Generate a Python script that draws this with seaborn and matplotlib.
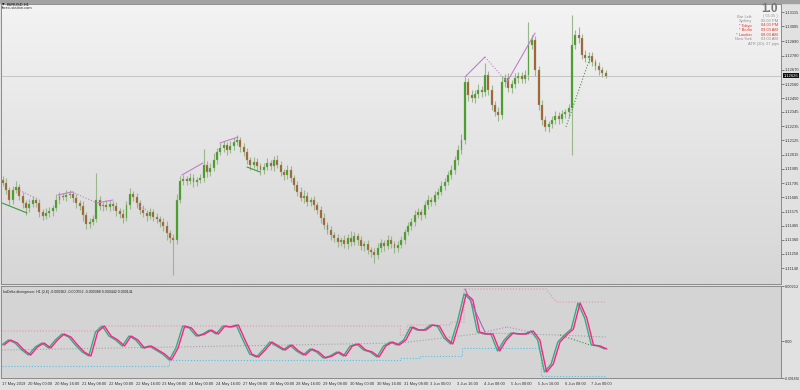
import numpy as np
import pandas as pd
import matplotlib
matplotlib.use("Agg")
import matplotlib.pyplot as plt
import seaborn as sns
from matplotlib.colors import LinearSegmentedColormap
from matplotlib.patches import Rectangle
from matplotlib.transforms import blended_transform_factory

sns.set_theme(style="white")
plt.rcParams['font.family'] = ['Liberation Sans', 'DejaVu Sans']

# ---------------- data ----------------
symbol = "EURUSD,H1"
site = "forex-station.com"
osc_title = "haDelta divergence: H1 (2,6) -0.000362 -0.000552 -0.000388 0.000442 0.000141"

first_open = 1.11820
closes = [
    1.11796, 1.11742, 1.11665, 1.11742, 1.11765, 1.11696, 1.11642, 1.11603, 1.11634, 1.11665,
    1.11642, 1.11572, 1.11541, 1.11565, 1.11580, 1.11603, 1.11665, 1.11696, 1.11688, 1.11704,
    1.11711, 1.11680, 1.11642, 1.11619, 1.11549, 1.11480, 1.11495, 1.11518, 1.11665, 1.11619,
    1.11626, 1.11611, 1.11634, 1.11619, 1.11580, 1.11557, 1.11526, 1.11626, 1.11711, 1.11688,
    1.11642, 1.11588, 1.11565, 1.11541, 1.11572, 1.11534, 1.11518, 1.11495, 1.11464, 1.11410,
    1.11372, 1.11356, 1.11665, 1.11812, 1.11827, 1.11812, 1.11835, 1.11804, 1.11819, 1.11835,
    1.11935, 1.11881, 1.11912, 1.11974, 1.12036, 1.12066, 1.12090, 1.12051, 1.12082, 1.12113,
    1.12128, 1.12074, 1.12036, 1.11974, 1.11935, 1.11958, 1.11928, 1.11897, 1.11920, 1.11951,
    1.11928, 1.11974, 1.11935, 1.11881, 1.11858, 1.11897, 1.11835, 1.11781, 1.11727, 1.11680,
    1.11696, 1.11650, 1.11665, 1.11626, 1.11588, 1.11526, 1.11472, 1.11433, 1.11395, 1.11372,
    1.11341, 1.11356, 1.11325, 1.11372, 1.11341, 1.11387, 1.11356, 1.11310, 1.11325, 1.11279,
    1.11264, 1.11240, 1.11294, 1.11333, 1.11310, 1.11356, 1.11325, 1.11294, 1.11318, 1.11356,
    1.11418, 1.11464, 1.11495, 1.11549, 1.11572, 1.11549, 1.11626, 1.11665, 1.11650, 1.11704,
    1.11727, 1.11773, 1.11804, 1.11858, 1.11897, 1.11974, 1.12051, 1.12128, 1.12576, 1.12476,
    1.12452, 1.12483, 1.12514, 1.12499, 1.12630, 1.12514, 1.12398, 1.12344, 1.12321, 1.12576,
    1.12607, 1.12530, 1.12561, 1.12607, 1.12622, 1.12599, 1.12630, 1.12862, 1.12900, 1.12669,
    1.12398, 1.12283, 1.12229, 1.12252, 1.12283, 1.12313, 1.12290, 1.12329, 1.12344, 1.12375,
    1.12862, 1.12939, 1.12916, 1.12784, 1.12761, 1.12777, 1.12730, 1.12700, 1.12669, 1.12645,
    1.12626,
]
wick_up_pips = [
    3, 4, 2, 3, 5, 2, 3, 2, 4, 3, 2, 3, 2, 4, 3, 2, 5, 3, 2, 4,
    3, 2, 3, 2, 4, 2, 3, 3, 21, 3, 2, 4, 3, 2, 3, 2, 4, 3, 5, 2,
    3, 2, 4, 2, 3, 2, 3, 2, 3, 4, 2, 3, 5, 4, 3, 2, 4, 3, 2, 3,
    12, 3, 4, 5, 3, 4, 3, 2, 4, 3, 4, 2, 3, 3, 2, 4, 3, 2, 3, 4,
    2, 3, 4, 3, 2, 4, 3, 2, 3, 4, 5, 3, 2, 3, 2, 3, 4, 2, 3, 2,
    3, 2, 4, 3, 5, 3, 2, 3, 2, 3, 2, 3, 4, 3, 2, 4, 3, 2, 3, 3,
    2, 3, 3, 4, 3, 2, 3, 4, 2, 3, 3, 4, 3, 3, 4, 3, 4, 5, 4, 3,
    4, 3, 5, 3, 9, 3, 4, 3, 4, 5, 3, 4, 3, 4, 3, 3, 4, 18, 4, 3,
    3, 4, 3, 2, 3, 4, 3, 3, 2, 3, 23, 4, 6, 3, 4, 3, 3, 2, 3, 2,
    2,
]
wick_dn_pips = [
    2, 3, 4, 3, 2, 3, 4, 5, 3, 2, 3, 4, 3, 2, 3, 4, 2, 3, 2, 3,
    2, 3, 4, 3, 5, 4, 3, 2, 2, 3, 4, 2, 3, 3, 4, 3, 4, 2, 3, 3,
    4, 3, 3, 4, 2, 3, 3, 4, 4, 5, 4, 27, 3, 2, 3, 3, 2, 4, 3, 2,
    3, 4, 3, 2, 3, 2, 3, 4, 2, 3, 2, 4, 3, 3, 4, 2, 3, 4, 3, 2,
    3, 4, 2, 3, 4, 3, 3, 4, 3, 2, 4, 3, 3, 4, 3, 4, 3, 3, 4, 3,
    4, 3, 3, 4, 3, 2, 4, 3, 4, 3, 4, 6, 3, 3, 4, 2, 3, 4, 3, 2,
    3, 2, 3, 3, 2, 4, 2, 3, 3, 2, 3, 2, 3, 2, 3, 3, 4, 3, 3, 5,
    3, 4, 3, 4, 3, 4, 4, 3, 5, 3, 4, 3, 4, 3, 4, 3, 3, 4, 3, 5,
    4, 4, 3, 4, 3, 3, 4, 3, 3, 4, 36, 3, 4, 3, 3, 4, 3, 3, 4, 3,
    2,
]
bar_hours = 2          # one drawn candle per two H1 slots

# haDelta oscillator, one value every 4 hours (x1e-6)
osc_step_hours = 4
osc_micro = [
    -154, 39, -77, -347, -540, -231, -77, -270, 39, 270,
    154, -154, -424, -578, 347, 578, 193, 39, -193, 193,
    39, -270, -193, -347, -501, -732, -270, 578, 501, 193,
    270, 424, 270, 578, 540, 617, 39, -501, -617, -347,
    -39, -193, -347, -154, -386, -540, -308, -424, -655, -578,
    -424, -578, -193, -116, -347, -424, -617, -193, -39, -154,
    39, 540, 424, 424, 617, 578, 116, -116, 732, 1812,
    1581, 347, 270, 270, -386, 39, 308, 270, 270, 386,
    39, -1195, -887, -39, 231, 463, 1465, 887, -154, -193,
    -308,
]
signal_lag_hours = 1.3

# dotted levels of the oscillator (hour, value x1e-6)
upper_hours = [0, 58, 58, 238, 238, 242, 242, 268, 268, 276, 276, 325, 331, 361]
upper_micro = [386, 386, 578, 578, 231, 231, 617, 617, 732, 732, 2005, 2005, 1503, 1503]
lower_hours = [0, 100, 100, 238, 238, 250, 250, 275, 275, 322, 322, 361]
lower_micro = [-964, -964, -732, -732, -655, -655, -578, -578, -270, -270, -1349, -1349]
mid_hours = [0, 238, 288, 333, 361]
mid_micro = [-347, -77, 308, 231, 154]

# divergence segments (hour0, value0, hour1, value1)
price_div = [
    (9.1, 1.11750, 19.9, 1.11680), (33.6, 1.11704, 42.0, 1.11727),
    (42.0, 1.11727, 56.9, 1.11642), (56.9, 1.11642, 66.4, 1.11665),
    (80.8, 1.11626, 86.7, 1.11588), (107.6, 1.11858, 120.2, 1.11951),
    (130.3, 1.12105, 141.1, 1.12151), (276.6, 1.12615, 288.5, 1.12769),
    (288.5, 1.12769, 301.7, 1.12576), (301.7, 1.12576, 318.4, 1.12954),
    (0.2, 1.11642, 15.1, 1.11565), (146.4, 1.11920, 154.2, 1.11881),
    (336.9, 1.12229, 351.2, 1.12761),
]
price_div_kind = ["bear_dot", "bear", "bear_dot", "bear", "bear_dot", "bear", "bear",
                  "bear", "bear_dot", "bear", "bull", "bull", "bull_dot"]
osc_div = [
    (276.6, 0.002005, 288.5, 0.000347), (288.5, 0.000347, 301.7, 0.000540),
    (301.7, 0.000540, 318.4, 0.000308), (333.3, 0.000231, 351.2, -0.000154),
]
osc_div_kind = ["bear", "bear_dot", "bear_dot", "bull_dot"]

time_labels = ["17 May 2019", "20 May 00:00", "20 May 16:00", "21 May 08:00", "22 May 00:00",
               "22 May 16:00", "23 May 08:00", "24 May 00:00", "24 May 16:00", "27 May 08:00",
               "28 May 00:00", "28 May 16:00", "29 May 08:00", "30 May 00:00", "30 May 16:00",
               "31 May 08:00", "3 Jun 00:00", "3 Jun 16:00", "4 Jun 08:00", "5 Jun 00:00",
               "5 Jun 16:00", "6 Jun 08:00", "7 Jun 00:00"]
time_label_step = 16
price_ticks = [1.13115, 1.13005, 1.12890, 1.12780, 1.12670, 1.12560, 1.12450, 1.12345,
               1.12235, 1.12125, 1.12015, 1.11905, 1.11795, 1.11685, 1.11575, 1.11465,
               1.11360, 1.11250, 1.11140]
osc_ticks = [0.00212, 0.0, -0.001426]
osc_tick_labels = ["0.00212", "0.00", "-0.001836"]

info_rows = [("Bar Left:", "( 55:35 )", "grey"), ("Sydney", "05:03 PM", "grey"),
             ("* Tokyo", "04:03 PM", "red"), ("* Berlin", "09:03 AM", "red"),
             ("* London", "08:03 AM", "red"), ("New York", "03:03 AM", "grey")]
atr_text = "ATR (20): 27 pips"
version_text = "1.0"

# ---------------- styles ----------------
W, H = 800, 390
BULL, BEAR, WICK = "#3d9c1e", "#a9572b", "#9bb58c"
MAG, GRN = "#c37ccf", "#3c9a3c"
txt_col = "#333333"
FS = 2.9

fig = plt.figure(figsize=(8, 3.9), dpi=100, facecolor="#e1e1e1")
def fx(px): return px / W
def fy(py): return 1 - py / H

ax = fig.add_axes([fx(1), fy(284), fx(780), 280 / H])
ax2 = fig.add_axes([fx(1), fy(378), fx(780), 92 / H])
xlim = ((1 - 1.7) / 1.675, (781 - 1.7) / 1.675)

# background gradient
cmap = LinearSegmentedColormap.from_list("bg", ["#f3f3f3", "#d6d6d6"])
ax.imshow(np.linspace(0, 1, 256).reshape(-1, 1), extent=[0, 1, 0, 1], transform=ax.transAxes,
          cmap=cmap, aspect="auto", zorder=0, origin="upper")
ax2.set_facecolor("#d4d4d4")

# candles
closes_a = np.array(closes)
opens_a = np.concatenate([[first_open], closes_a[:-1]])
highs = np.maximum(opens_a, closes_a) + np.array(wick_up_pips) * 1e-4
lows = np.minimum(opens_a, closes_a) - np.array(wick_dn_pips) * 1e-4
hrs = np.arange(len(closes)) * bar_hours + 0.5
ax.vlines(hrs, lows, highs, color=WICK, lw=0.8, zorder=2)
body_col = [BULL if c >= o else BEAR for o, c in zip(opens_a, closes_a)]
heights = np.maximum(np.abs(closes_a - opens_a), 0.00002)
ax.bar(hrs, heights, bottom=np.minimum(opens_a, closes_a), width=1.15, color=body_col,
       edgecolor="#8fb080", linewidth=0.25, zorder=3)

# bid line
ax.axhline(closes[-1], color="#c4c4c4", lw=0.7, zorder=1)

styles = {"bear": (MAG, "-"), "bear_dot": (MAG, ":"), "bull": (GRN, "-"), "bull_dot": (GRN, ":")}
for (h0, p0, h1, p1), k in zip(price_div, price_div_kind):
    c, ls = styles[k]
    sns.lineplot(x=[h0, h1], y=[p0, p1], ax=ax, color=c, linestyle=ls, lw=0.8, zorder=4)

ax.set_xlim(*xlim)
ax.set_ylim(1.110165, 1.131780)
ax.set_xticks([])
ax.yaxis.tick_right()
ax.set_yticks(price_ticks)
ax.set_yticklabels([f"{v:.5f}" for v in price_ticks])
ax.tick_params(axis="y", direction="out", length=2, width=0.5, pad=1, labelsize=FS,
               colors="#555555", labelcolor=txt_col)
for s in ax.spines.values():
    s.set_color("#8a8a8a"); s.set_linewidth(0.7)

# bid box
ax.text(1.003, closes[-1], f"{closes[-1]:.5f}", transform=blended_transform_factory(ax.transAxes, ax.transData),
        ha="left", va="center", fontsize=FS, color="white",
        bbox=dict(boxstyle="square,pad=0.15", fc="#111111", ec="none"), zorder=6, clip_on=False)

# oscillator panel
osc_h = np.arange(len(osc_micro)) * osc_step_hours
osc = np.array(osc_micro) * 1e-6
for hh, vv, col in [(upper_hours, upper_micro, "#e793ad"), (lower_hours, lower_micro, "#52c3e6"),
                    (mid_hours, mid_micro, "#a3a3a3")]:
    sns.lineplot(x=hh, y=np.array(vv) * 1e-6, ax=ax2, color=col, linestyle=":", lw=0.8,
                 sort=False, estimator=None, zorder=2)
df = pd.DataFrame({"h": osc_h, "v": osc})
sns.lineplot(data=df, x="h", y="v", ax=ax2, color="#33b07a", lw=1.0, sort=False, estimator=None, zorder=3)
sns.lineplot(x=osc_h + signal_lag_hours, y=osc, ax=ax2, color="#ff1f8e", lw=1.0, sort=False,
             estimator=None, zorder=4)
for (h0, v0, h1, v1), k in zip(osc_div, osc_div_kind):
    c, ls = styles[k]
    sns.lineplot(x=[h0, h1], y=[v0, v1], ax=ax2, color=c if k != "bear" else "#a569b5",
                 linestyle=ls, lw=0.8, zorder=5)

ax2.set_xlim(*xlim)
ax2.set_ylim(-0.001426, 0.00212)
ax2.yaxis.tick_right()
ax2.set_yticks(osc_ticks)
ax2.set_yticklabels(osc_tick_labels)
xt = np.arange(len(time_labels)) * time_label_step
ax2.set_xticks(xt)
ax2.set_xticklabels(time_labels, ha="left")
ax2.tick_params(axis="both", direction="out", length=2, width=0.5, pad=1, labelsize=FS,
                colors="#555555", labelcolor=txt_col)
ax2.tick_params(axis="y", pad=0.6)
ax2.get_yticklabels()[-1].set_fontsize(FS * 0.85)
ax2.set_xlabel(""); ax2.set_ylabel(""); ax.set_xlabel(""); ax.set_ylabel("")
for s in ax2.spines.values():
    s.set_color("#8a8a8a"); s.set_linewidth(0.7)
ax2.text(0.003, 0.96, osc_title, transform=ax2.transAxes, ha="left", va="top", fontsize=FS * 0.9,
         color="#222222")

# top strip and labels
fig.patches.append(Rectangle((0, fy(3)), 1, 3 / H, transform=fig.transFigure, color="#a2a2a2", zorder=0))
fig.text(fx(2), fy(4.5), "\u25bc", fontsize=FS * 0.8, color="#111111", ha="left", va="center",
         family=["DejaVu Sans"])
fig.text(fx(7), fy(4.5), symbol, fontsize=FS, color="#111111", ha="left", va="center")
fig.text(fx(2), fy(8.2), site, fontsize=FS, color="#333333", ha="left", va="center")

fig.text(fx(778), fy(8.5), version_text, fontsize=8.5, weight="bold", color="#777777",
         ha="right", va="center")
row_y = [16.5, 21, 25.5, 30, 34.5, 39]
for (lab, val, kind), yy in zip(info_rows, row_y):
    col = "#e5352b" if kind == "red" else "#909090"
    fig.text(fx(752), fy(yy), lab, fontsize=FS, color=col, ha="right", va="center")
    fig.text(fx(778), fy(yy), val, fontsize=FS, color=col, ha="right", va="center")
fig.text(fx(779), fy(43.5), atr_text, fontsize=FS, color="#909090", ha="right", va="center")

fig.savefig("out.png", dpi=100, facecolor=fig.get_facecolor())
